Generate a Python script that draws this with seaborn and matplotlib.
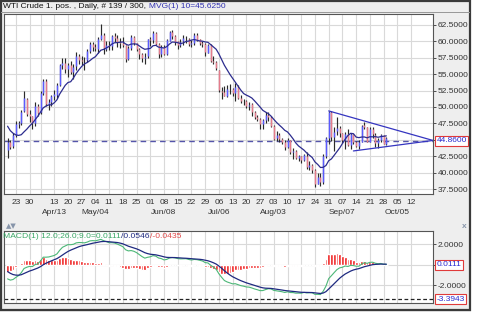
import numpy as np
import pandas as pd
import matplotlib
matplotlib.use("Agg")
import matplotlib.pyplot as plt
import matplotlib.transforms as mtransforms
from matplotlib.patches import Rectangle
import seaborn as sns

# ---------------- data (daily bars, 18 Mar - 29 Sep) ----------------
opens = [43.4, 44.6, 44.0, 45.7, 47.4, 47.5, 49.4, 51.2, 48.9, 48.6,
         47.6, 50.1, 49.3, 52.1, 53.9, 50.5, 50.8, 51.6, 51.9, 53.3, 56.4, 56.7, 55.8, 56.4, 55.3, 56.2, 57.7, 57.1, 57.0, 57.1, 58.6,
         59.6, 59.1, 58.9, 60.4, 60.9, 58.9, 59.4, 59.3, 60.8, 60.5, 59.9, 59.7, 59.4, 57.3, 59.0, 60.7, 59.7, 58.9, 58.0, 57.5, 57.7,
         60.3, 60.2, 61.3, 59.6, 58.0, 59.1, 58.1, 60.1, 61.4, 60.8, 60.0, 59.5, 60.0, 60.5, 60.4, 59.6, 59.7, 61.0, 60.3, 59.7, 59.6, 58.3,
         59.5, 57.0, 56.9, 55.6, 52.5, 52.3, 51.7, 52.8, 52.7, 52.2, 53.0, 51.4, 50.9, 50.9, 50.2, 50.4, 49.2, 48.5, 48.1, 47.4, 48.0, 48.8, 48.5,
         47.1, 45.2, 45.7, 45.1, 44.7, 43.9, 45.0, 43.1, 43.3, 42.2, 42.5, 41.9, 42.6, 40.8, 41.1, 40.4, 38.2, 39.3, 38.6, 42.6, 45.2,
         49.2, 45.4, 46.3, 46.8, 46.0, 45.0, 45.9, 44.2, 45.9, 44.6, 44.0, 44.6, 47.2, 46.9, 44.7, 46.7, 45.8, 44.5, 44.9, 45.7, 44.4]
highs = [45.3, 45.0, 46.1, 47.8, 47.9, 49.5, 52.5, 51.4, 49.6, 48.7,
         50.7, 50.4, 52.5, 54.2, 54.2, 51.2, 51.9, 52.6, 53.6, 56.6, 57.4, 57.4, 56.7, 57.0, 56.6, 58.4, 58.0, 57.8, 57.6, 58.9, 59.9,
         59.9, 59.6, 60.6, 62.6, 61.3, 60.0, 60.0, 61.0, 61.3, 61.0, 60.5, 60.6, 59.5, 59.3, 60.9, 60.8, 59.8, 59.0, 58.3, 58.2, 60.4,
         60.7, 61.6, 61.4, 59.8, 59.5, 59.5, 60.3, 61.6, 61.7, 60.9, 60.1, 60.3, 60.9, 60.8, 60.5, 60.2, 61.3, 61.2, 60.4, 60.0, 59.7, 59.6,
         59.6, 57.7, 57.0, 55.7, 53.1, 53.2, 53.3, 53.5, 52.9, 53.6, 53.3, 51.8, 51.2, 51.0, 50.8, 50.6, 49.4, 48.8, 48.3, 48.1, 49.2, 49.2, 48.6,
         47.2, 46.4, 46.0, 45.3, 45.0, 45.3, 45.0, 43.8, 43.5, 42.7, 42.6, 42.9, 43.1, 41.7, 41.3, 40.5, 39.9, 40.0, 42.9, 45.5,
         49.4, 49.4, 46.9, 48.4, 47.1, 46.1, 46.2, 46.6, 46.0, 45.9, 44.8, 44.9, 47.3, 47.7, 47.0, 46.9, 46.9, 46.1, 45.3, 45.9, 45.8, 45.5]
lows = [42.2, 43.6, 43.8, 45.5, 46.8, 47.3, 49.2, 48.6, 47.7, 46.7,
        47.1, 48.6, 49.0, 51.8, 50.2, 49.6, 50.2, 51.1, 51.3, 53.2, 55.8, 55.2, 54.6, 55.1, 54.3, 55.7, 56.6, 56.4, 55.7, 56.8, 58.3,
        58.5, 58.5, 58.3, 60.2, 58.1, 58.6, 58.7, 58.7, 59.9, 59.2, 59.0, 59.2, 56.8, 57.2, 58.7, 59.5, 58.6, 57.3, 56.9, 56.5, 57.5,
        59.3, 59.8, 59.5, 57.4, 57.6, 57.9, 57.9, 60.0, 60.3, 59.5, 58.9, 59.1, 59.4, 59.8, 59.3, 59.2, 59.4, 60.1, 59.5, 59.1, 57.8, 58.2,
        56.8, 56.5, 55.7, 52.3, 51.2, 51.6, 51.5, 52.0, 51.6, 50.9, 51.2, 50.6, 50.3, 49.8, 49.6, 48.6, 48.1, 47.8, 46.7, 46.7, 47.6, 47.9, 46.9,
        45.0, 44.8, 44.7, 44.3, 43.5, 43.8, 42.9, 42.1, 42.1, 41.8, 41.4, 41.7, 40.5, 40.4, 39.9, 37.8, 38.2, 38.0, 38.2, 42.2,
        44.4, 44.8, 43.3, 45.8, 45.4, 44.5, 43.6, 44.1, 43.6, 44.4, 43.9, 43.6, 44.6, 46.6, 44.6, 44.6, 45.2, 43.9, 43.7, 44.6, 44.3, 44.2]
closes = [44.66, 43.96, 45.72, 47.45, 47.51, 49.21, 51.43, 48.87, 48.68, 47.60,
          50.09, 49.14, 52.14, 53.98, 50.42, 50.79, 51.64, 51.91, 53.29, 56.39, 56.71, 55.74, 56.38, 55.26, 56.16, 57.74, 57.15, 56.99, 57.06, 58.58, 59.63,
          59.15, 58.93, 60.40, 60.93, 58.94, 59.39, 59.25, 60.75, 60.50, 59.88, 59.69, 59.43, 57.26, 58.98, 60.72, 59.72, 58.90, 58.03, 57.51, 57.68, 60.30,
          60.20, 61.26, 59.64, 58.00, 59.13, 58.14, 60.14, 61.43, 60.77, 59.96, 59.52, 59.97, 60.45, 60.45, 59.61, 59.68, 61.01, 60.27, 59.70, 59.63, 58.33, 59.47,
          56.96, 56.93, 56.00, 52.53, 52.33, 51.65, 52.78, 52.74, 52.20, 53.04, 51.41, 50.91, 50.89, 50.15, 50.36, 49.19, 48.45, 48.14, 47.39, 47.98, 48.79, 48.52, 47.12,
          45.17, 45.74, 45.15, 44.66, 43.87, 44.96, 43.08, 43.30, 42.23, 42.50, 41.87, 42.62, 40.80, 41.14, 40.45, 38.24, 39.31, 38.60, 42.56, 45.22,
          49.20, 45.41, 46.25, 46.75, 46.05, 45.00, 45.94, 44.15, 45.92, 44.63, 44.00, 44.59, 47.15, 46.90, 44.68, 46.68, 45.83, 44.48, 44.91, 45.70, 44.43, 45.23]
# closes before the visible window (indicator warm-up)
pre_closes = [52.69, 50.04, 47.93, 48.65, 48.79, 48.36, 46.07, 45.89, 48.48, 46.25, 48.69, 46.39, 47.78,
              46.31, 45.59, 45.15, 46.23, 44.45, 44.53, 48.24, 49.57, 53.05, 48.45, 50.48, 51.69, 52.86,
              50.02, 48.84, 51.21, 52.78, 53.53, 52.14, 51.16, 50.34, 49.45, 49.25, 50.99, 48.17, 49.76,
              49.59, 50.52, 51.53, 50.76, 49.61, 50.00, 48.29, 48.17, 47.05, 44.84, 43.88, 43.46]

# x axis: bar index of each weekly tick and its label
xtick_pos = [3, 8, 12, 17, 22, 27, 32, 37, 42, 47, 52, 57, 62, 67, 72, 77, 82, 87, 92, 97,
             102, 107, 112, 117, 122, 127, 132, 137, 142, 147]
xtick_labels = ["23", "30", "", "13", "20", "27", "04", "11", "18", "25", "01", "08", "15", "22", "29",
                "06", "13", "20", "27", "03", "10", "17", "24", "31", "07", "14", "21", "28", "05", "12"]
month_pos = [17, 32, 57, 77, 97, 122, 142]
month_labels = ["Apr/13", "May/04", "Jun/08", "Jul/06", "Aug/03", "Sep/07", "Oct/05"]

price_ticks = [37.5, 40.0, 42.5, 45.0, 47.5, 50.0, 52.5, 55.0, 57.5, 60.0, 62.5]
last_price = 44.86
upper_trend_x = [117, 155]
upper_trend_y = [49.4, 44.9]
lower_trend_x = [126, 155]
lower_trend_y = [43.3, 44.9]

macd_ticks = [2.0, 0.0, -2.0]
macd_last = 0.0111
macd_floor = -3.3943

header_parts = [("WTI Crude 1. pos. , Daily, # 139 / 300, ", '#111111'), ("MVG(1) 10=45.6250", '#3030b0')]
macd_parts = [("MACD(1) 12.0;26.0;9.0=0.0111", '#3aa866'), ("/0.0546", '#1f2a80'), ("/-0.0435", '#e04848')]

# ---------------- indicators ----------------
n = len(closes)
idx = np.arange(n)
allc = pd.Series(pre_closes + closes)
ma10 = allc.rolling(10).mean().iloc[len(pre_closes):].to_numpy()
ema12 = allc.ewm(span=12, adjust=False).mean()
ema26 = allc.ewm(span=26, adjust=False).mean()
macd_all = ema12 - ema26
signal_all = macd_all.ewm(span=9, adjust=False).mean()
macd = macd_all.iloc[len(pre_closes):].to_numpy()
signal = signal_all.iloc[len(pre_closes):].to_numpy()
hist = macd - signal

df = pd.DataFrame({"i": idx, "ma": ma10, "macd": macd, "signal": signal})

# ---------------- figure ----------------
sns.set_style("white")
plt.rcParams['font.family'] = ['Liberation Sans', 'DejaVu Sans']
W, H = 500, 312
fig = plt.figure(figsize=(5, 3.12), dpi=100, facecolor='#eeeeee')


def rect(l, t, r, b):
    return [l / W, 1 - b / H, (r - l) / W, (b - t) / H]


ax = fig.add_axes(rect(4, 14, 433, 194))
ax2 = fig.add_axes(rect(4, 231, 433, 303))
XLIM = (-1.3, 155.0)
grid_c = '#d9d9d9'
fs = 6.0

# price bars
ax.vlines(idx, lows, highs, color='#2b2b2b', lw=0.85, zorder=3)
body_col = ['#5b5bff' if c >= o else '#e57c8c' for o, c in zip(opens, closes)]
ax.vlines(idx, np.minimum(opens, closes), np.maximum(opens, closes), colors=body_col, lw=1.05, zorder=4)

sns.lineplot(data=df, x="i", y="ma", ax=ax, color='#2c2c8e', lw=0.9, zorder=5)
ax.axhline(last_price, color='#5555aa', ls=(0, (4, 3)), lw=1.0, zorder=2)
sns.lineplot(x=upper_trend_x, y=upper_trend_y, ax=ax, color='#3535c0', lw=0.9, zorder=5)
sns.lineplot(x=lower_trend_x, y=lower_trend_y, ax=ax, color='#3535c0', lw=0.9, zorder=5)

ax.set_xlim(*XLIM)
ax.set_ylim(36.74, 64.17)
ax.set_xticks(xtick_pos)
ax.set_xticklabels(xtick_labels)
ax.yaxis.tick_right()
ax.set_yticks(price_ticks)
ax.set_yticklabels(["" if v == 45.0 else f"{v:.4f}" for v in price_ticks])
ax.grid(True, color=grid_c, lw=0.8, zorder=0)
ax.set_axisbelow(True)
ax.tick_params(axis='both', labelsize=fs, colors='#333333', length=2.5, width=0.6, pad=1)
ax.set_xlabel("")
ax.set_ylabel("")
for s in ax.spines.values():
    s.set_color('#555555')
    s.set_linewidth(0.8)

tr = mtransforms.blended_transform_factory(ax.transData, ax.transAxes)
for p, lab in zip(month_pos, month_labels):
    ax.text(p, -0.10, lab, transform=tr, ha='center', va='center', fontsize=fs, color='#333333')

box = dict(boxstyle='square,pad=0.18', fc='white', ec='#e03a3a', lw=0.8)
tr_y = mtransforms.blended_transform_factory(ax.transAxes, ax.transData)
ax.text(1.008, last_price, f"{last_price:.4f}", transform=tr_y, ha='left', va='center', fontsize=fs,
        color='#2a2ad0', bbox=box)

# MACD panel
ax2.bar(idx, hist, width=1.0, color='#ee1111', zorder=3)
sns.lineplot(data=df, x="i", y="macd", ax=ax2, color='#4cb777', lw=0.8, zorder=4)
sns.lineplot(data=df, x="i", y="signal", ax=ax2, color='#1f2a80', lw=0.9, zorder=5)
ax2.axhline(macd_floor, color='#222222', ls=(0, (3, 2)), lw=0.9, zorder=2)
ax2.set_xlim(*XLIM)
ax2.set_ylim(-3.76, 3.3)
ax2.set_xticks(xtick_pos)
ax2.set_xticklabels([])
ax2.yaxis.tick_right()
ax2.set_yticks(macd_ticks)
ax2.set_yticklabels(["2.0000", "", "-2.0000"])
ax2.grid(True, color=grid_c, lw=0.8, zorder=0)
ax2.set_axisbelow(True)
ax2.tick_params(axis='x', length=0)
ax2.tick_params(axis='y', labelsize=fs, colors='#333333', length=2.5, width=0.6, pad=1)
ax2.set_xlabel("")
ax2.set_ylabel("")
for s in ax2.spines.values():
    s.set_color('#555555')
    s.set_linewidth(0.8)
tr2 = mtransforms.blended_transform_factory(ax2.transAxes, ax2.transData)
ax2.text(1.008, macd_last, f"{macd_last:.4f}", transform=tr2, ha='left', va='center', fontsize=fs,
         color='#2a2ad0', bbox=box)
ax2.text(1.008, macd_floor, f"{macd_floor:.4f}", transform=tr2, ha='left', va='center', fontsize=fs,
         color='#2a2ad0', bbox=box)

# header texts, chained one after the other
renderer = fig.canvas.get_renderer()


def chain(parts, x0, y, size):
    x = x0
    for txt, col in parts:
        t = fig.text(x / W, 1 - y / H, txt, fontsize=size, color=col, va='center')
        bb = t.get_window_extent(renderer)
        x = bb.x1 + 0.5


chain(header_parts, 3, 7, 6.0)
chain(macd_parts, 3, 237, 6.1)
fig.text(6 / W, 1 - 226 / H, "▲▼", fontsize=5, color='#8795aa', va='center', family=['DejaVu Sans'])
fig.text(462 / W, 1 - 226 / H, "x", fontsize=6, color='#8795aa', va='center', weight='bold')

# white margin on the right and outer frame
fig.patches.append(Rectangle((471 / W, 0), 29 / W, 1, transform=fig.transFigure,
                             fc='white', ec='none', zorder=-5))
fig.patches.append(Rectangle((1 / W, 1 - 310 / H), 469 / W, 309 / H, transform=fig.transFigure,
                             fill=False, ec='#3a3a3a', lw=1.6, zorder=10))
fig.patches.append(Rectangle((1 / W, 1 - 13 / H), 469 / W, 0.6 / H, transform=fig.transFigure,
                             fc='#999999', ec='none', zorder=10))

fig.savefig("out.png", dpi=100, facecolor=fig.get_facecolor())
